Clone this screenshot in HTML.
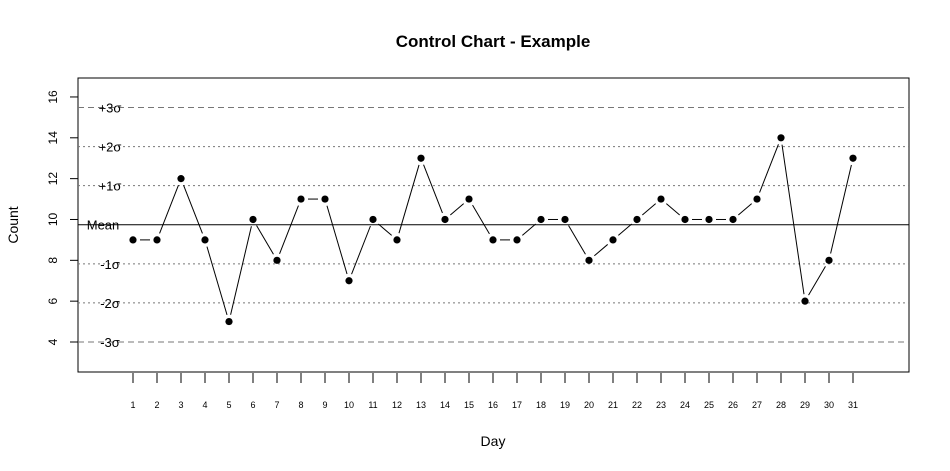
<!DOCTYPE html>
<html><head><meta charset="utf-8"><style>
html,body{margin:0;padding:0;background:#fff;}
svg{display:block;font-family:"Liberation Sans",Arial,sans-serif;}
</style></head><body>
<svg id="chart" width="950" height="471" xmlns="http://www.w3.org/2000/svg">
<text x="493" y="47" text-anchor="middle" font-size="17" font-weight="bold">Control Chart - Example</text>
<text x="493" y="446" text-anchor="middle" font-size="14">Day</text>
<text transform="translate(18,225) rotate(-90)" text-anchor="middle" font-size="14">Count</text>
<rect x="78" y="78" width="831" height="294" fill="none" stroke="#000"/>
<g id="yaxis"></g>
<g id="xaxis"></g>
<g id="limits"></g>
<g id="series"></g>
</svg>
<script>
const days = [1,2,3,4,5,6,7,8,9,10,11,12,13,14,15,16,17,18,19,20,21,22,23,24,25,26,27,28,29,30,31];
const counts = [9,9,12,9,5,10,8,11,11,7,10,9,13,10,11,9,9,10,10,8,9,10,11,10,10,10,11,14,6,8,13];
const yTicks = [4,6,8,10,12,14,16];
const limitLabels = ["-3σ","-2σ","-1σ","Mean","+1σ","+2σ","+3σ"];
const limitMult = [-3,-2,-1,0,1,2,3];

const NS="http://www.w3.org/2000/svg";
function mk(tag,attrs,parent){const e=document.createElementNS(NS,tag);for(const k in attrs)e.setAttribute(k,attrs[k]);parent.appendChild(e);return e;}
const X=d=>133+(d-1)*24;
const Y=v=>342-(v-4)*20.42;
const n=counts.length;
const mean=counts.reduce((a,b)=>a+b,0)/n;
const sd=Math.sqrt(counts.reduce((a,b)=>a+(b-mean)*(b-mean),0)/(n-1));

const ya=document.getElementById('yaxis');
yTicks.forEach(t=>{
  const l=mk('line',{x1:70,x2:78,y1:Y(t),y2:Y(t),stroke:'#000'},ya);
  
  
  const tx=mk('text',{transform:`translate(57,${Y(t)}) rotate(-90)`,'text-anchor':'middle','font-size':12},ya);
  tx.textContent=t;
  
  
});
const xa=document.getElementById('xaxis');
days.forEach(d=>{
  const l=mk('line',{x1:X(d),x2:X(d),y1:373,y2:383,stroke:'#000'},xa);
  
  
  const tx=mk('text',{x:X(d),y:408,'text-anchor':'middle','font-size':9},xa);
  tx.textContent=d;
  
  
});
const lg=document.getElementById('limits');
limitMult.forEach((m,i)=>{
  const v=mean+m*sd, y=Y(v);
  const a={x1:78,x2:909,y1:y,y2:y};
  if(m===0){a.stroke='#000';}
  else if(Math.abs(m)===3){a.stroke='#777';a['stroke-dasharray']='6,4';}
  else {a.stroke='#777';a['stroke-dasharray']='2,3';}
  const l=mk('line',a,lg);
  
  
  const tx=mk('text',{x:m===0?103:110,y:y+5,'text-anchor':'middle','font-size':13},lg);
  tx.textContent=limitLabels[i];
  
  
});
const sg=document.getElementById('series');
for(let i=0;i<n-1;i++){
  const x1=X(days[i]),y1=Y(counts[i]),x2=X(days[i+1]),y2=Y(counts[i+1]);
  const dx=x2-x1,dy=y2-y1,L=Math.hypot(dx,dy),g=7;
  if(L>2*g){
    const l=mk('line',{x1:x1+dx*g/L,y1:y1+dy*g/L,x2:x2-dx*g/L,y2:y2-dy*g/L,stroke:'#000','stroke-width':1},sg);
    
    
  }
}
counts.forEach((v,i)=>{
  const c=mk('circle',{cx:X(days[i]),cy:Y(v),r:3.6,fill:'#000'},sg);
  
  
});
</script>
</body></html>
